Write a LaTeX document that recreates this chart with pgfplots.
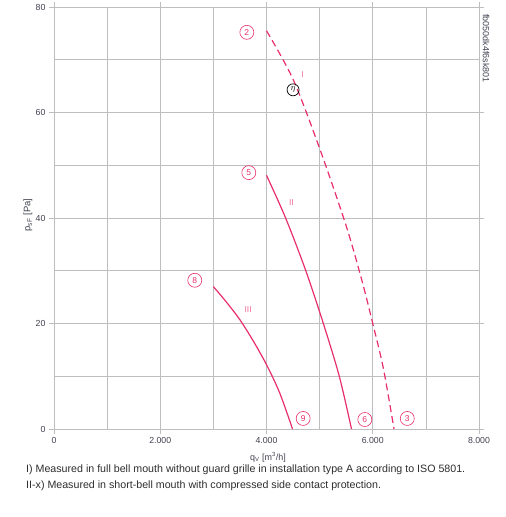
\documentclass[border=0pt]{standalone}
\usepackage{pgfplots}
\pgfplotsset{compat=1.18}
\usepackage{fontspec}
\setmainfont{Liberation Sans}

\definecolor{curve}{RGB}{232,45,110}
\definecolor{gridgray}{RGB}{190,190,190}
\definecolor{tickcol}{RGB}{64,66,80}
\definecolor{txt}{RGB}{45,45,45}

% pressure curves: volume flow qV [m^3/h] vs. static pressure [Pa]
\pgfplotstableread{
x y
4000 75.5
4500 66.3
5000 53.2
5500 38.5
5800 28.0
6000 20.0
6200 11.5
6400 0.0
}\curveI
\pgfplotstableread{
x y
4000 48.1
4360 40.0
4740 30.0
5070 20.0
5370 10.0
5600 0.0
}\curveII
\pgfplotstableread{
x y
3000 27.0
3250 24.0
3500 20.7
3750 16.7
4000 12.2
4250 6.8
4490 0.0
}\curveIII

\tikzset{
  num/.style={circle, draw=curve, text=curve, line width=0.6pt, inner sep=0pt,
    minimum size=14bp, font=\fontsize{8.5}{8.5}\selectfont},
  rom/.style={text=curve!70, font=\fontsize{8.5}{8.5}\selectfont}
}

\begin{document}
\begin{tikzpicture}
\path[use as bounding box] (0,0) rectangle (506bp,517bp);
\begin{axis}[
  scale only axis, width=425bp, height=422bp,
  at={(54bp,88bp)}, anchor=south west,
  xmin=0, xmax=8000, ymin=0, ymax=80,
  xtick={0,2000,4000,6000,8000},
  xticklabels={0,2.000,4.000,6.000,8.000},
  minor xtick={1000,3000,5000,7000},
  ytick={0,20,40,60,80},
  minor ytick={10,30,50,70},
  grid=both,
  grid style={gridgray, line width=0.7pt},
  minor grid style={gridgray, line width=0.7pt},
  axis line style={gridgray, line width=0.7pt},
  tick align=outside,
  major tick length=5bp, minor tick length=0pt,
  tick style={gridgray, line width=0.7pt},
  ticklabel style={font=\fontsize{8.8}{10}\selectfont, text=tickcol},
  /pgf/number format/assume math mode=true,
  scaled ticks=false,
  clip=false,
]
\addplot[curve, line width=1.2pt, dash pattern=on 7bp off 4bp, smooth] table[x=x,y=y] {\curveI};
\addplot[curve, line width=1.2pt, smooth] table[x=x,y=y] {\curveII};
\addplot[curve, line width=1.2pt, smooth] table[x=x,y=y] {\curveIII};

\node[num] at (axis cs:3630,75.2) {2};
\node[num] at (axis cs:3667,48.6) {5};
\node[num] at (axis cs:2650,28.2) {8};
\node[num] at (axis cs:4690,2.0) {9};
\node[num] at (axis cs:5851,1.8) {6};
\node[num] at (axis cs:6650,2.0) {3};
\node[circle, draw=black, line width=0.7pt, inner sep=0pt, minimum size=12bp,
  font=\fontsize{9}{9}\selectfont] at (axis cs:4500,64.3) {$\eta$};
\node[rom] at (axis cs:4680,67.2) {I};
\node[rom] at (axis cs:4470,42.9) {II};
\node[rom] at (axis cs:3654,22.7) {III};
\end{axis}

\node[text=tickcol, font=\fontsize{9}{10}\selectfont] at (268bp,60bp)
  {q\textsubscript{V} [m\textsuperscript{3}/h]};
\node[text=tickcol, font=\fontsize{9.5}{10}\selectfont, rotate=90] at (28bp,302bp)
  {p\textsubscript{sF} [Pa]};
\node[text=tickcol, font=\fontsize{9}{10}\selectfont, rotate=-90, anchor=west, inner sep=0pt] at (486bp,503bp)
  {fb050dk4f6sk801};

\node[text=txt, font=\fontsize{10.7}{12}\selectfont, anchor=west, inner sep=0pt] at (26bp,47bp)
  {I) Measured in full bell mouth without guard grille in installation type A according to ISO 5801.};
\node[text=txt, font=\fontsize{10.7}{12}\selectfont, anchor=west, inner sep=0pt] at (26bp,31bp)
  {II-x) Measured in short-bell mouth with compressed side contact protection.};
\end{tikzpicture}
\end{document}
